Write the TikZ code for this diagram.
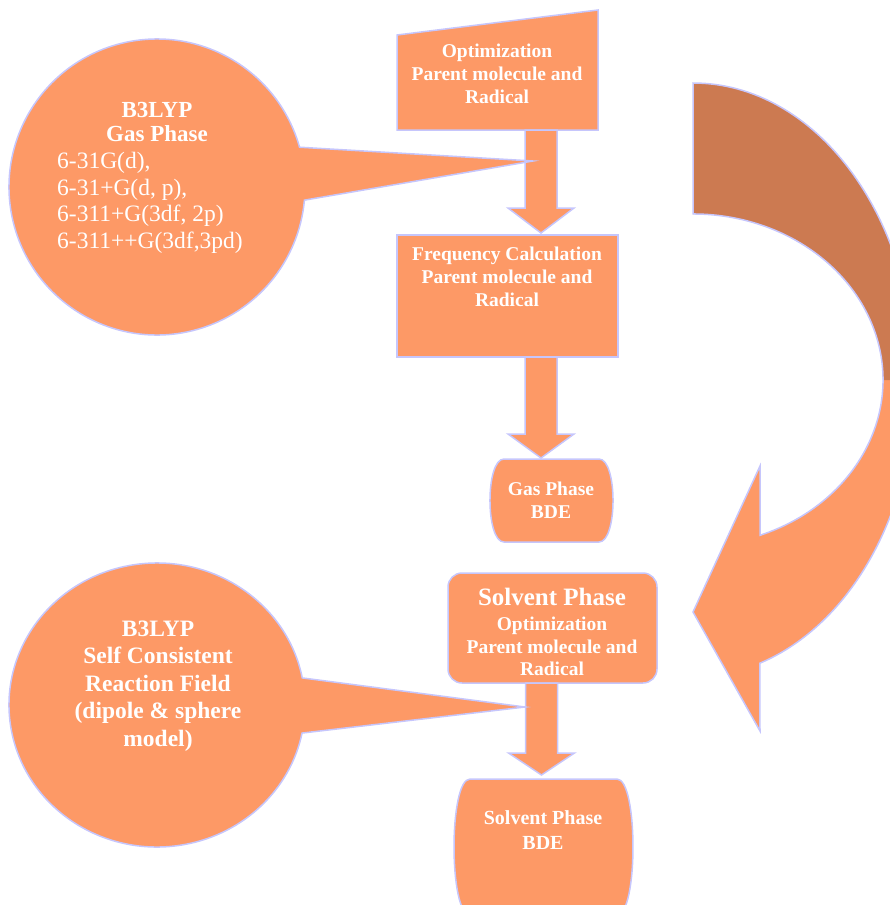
\documentclass[tikz,border=0pt]{standalone}
\usepackage{fontspec}
\setmainfont{Liberation Serif}
\usetikzlibrary{calc}
\definecolor{boxfill}{RGB}{253,153,102}
\definecolor{brownfill}{RGB}{204,122,81}
\definecolor{edgecol}{RGB}{198,198,252}
\newcommand{\blkarr}[3]{% start, end, head length
  \draw[shapestyle] ($(#1)+(-16,0)$) -- ($(#2)+(-16,-#3)$) -- ($(#2)+(-33,-#3)$) -- (#2)
    -- ($(#2)+(33,-#3)$) -- ($(#2)+(16,-#3)$) -- ($(#1)+(16,0)$) -- cycle;}
\begin{document}
\begin{tikzpicture}[x=1pt,y=-1pt,
  shapestyle/.style={fill=boxfill, draw=edgecol, line width=1.5pt},
  lbl/.style={text=white, font=\bfseries\fontsize{19.5}{23}\selectfont, align=center, inner sep=0pt}]
\useasboundingbox (0,0) rectangle (890,905);
\clip (0,0) rectangle (890,905);

% curved arrow on the right
\fill[boxfill] (693,83) arc[start angle=-90,end angle=72.5,x radius=222,y radius=297]
  -- (760,731) -- (693,612) -- (760,466) -- (760,535.3)
  arc[start angle=69.35,end angle=-90,x radius=190,y radius=166] -- cycle;
\fill[brownfill] (693,83) arc[start angle=-90,end angle=0,x radius=222,y radius=297]
  -- (883,380) arc[start angle=0,end angle=-90,x radius=190,y radius=166] -- cycle;
\draw[edgecol, line width=1.5pt] (693,83) arc[start angle=-90,end angle=72.5,x radius=222,y radius=297]
  -- (760,731) -- (693,612) -- (760,466) -- (760,535.3)
  arc[start angle=69.35,end angle=-90,x radius=190,y radius=166] -- cycle;

% top box (manual input shape)
\draw[shapestyle] (397,35) -- (598,10) -- (598,130) -- (397,130) -- cycle;
% frequency box
\node[shapestyle, rectangle, minimum width=221, minimum height=122] (freq) at (507.5,296) {};
% solvent box
\node[shapestyle, rectangle, rounded corners=14, minimum width=209, minimum height=110] (solv) at (552.5,628) {};
% gas BDE barrel
\draw[shapestyle] (504,459) -- (599,459) .. controls (617.7,459) and (617.7,542) .. (599,542)
  -- (504,542) .. controls (485.3,542) and (485.3,459) .. (504,459) -- cycle;
% solvent BDE barrel
\draw[shapestyle] (470,779) -- (617,779) .. controls (638.3,779) and (638.3,915) .. (617,915)
  -- (470,915) .. controls (448.7,915) and (448.7,779) .. (470,779) -- cycle;

% block arrows
\coordinate (a1s) at (541,130); \coordinate (a1e) at (541,233);
\coordinate (a2s) at (541,357); \coordinate (a2e) at (541,458);
\coordinate (a3s) at (541.5,683); \coordinate (a3e) at (541.5,775);
\blkarr{a1s}{a1e}{25}
\blkarr{a2s}{a2e}{24}
\blkarr{a3s}{a3e}{22}

% callouts
\coordinate (c1) at (157,187); \coordinate (tip1) at (533,161);
\draw[shapestyle] ($(c1)+(-15.6:148)$) arc[start angle=-15.6,end angle=-354.9,radius=148] -- (tip1) -- cycle;
\coordinate (c2) at (157,705); \coordinate (tip2) at (525,707);
\draw[shapestyle] ($(c2)+(-11:148 and 142)$) arc[start angle=-11,end angle=-348.6,x radius=148,y radius=142] -- (tip2) -- cycle;

% texts
\node[lbl] (opttext) at (497,74) {Optimization\\Parent molecule and\\Radical};
\node[lbl] (freqtext) at (507,277) {Frequency Calculation\\Parent molecule and\\Radical};
\node[lbl] (gasbde) at (551,500) {Gas Phase\\BDE};
\node[lbl, font=\bfseries\fontsize{19.5}{22.5}\selectfont] (solvtext) at (552,632) {{\fontsize{25}{27}\selectfont Solvent Phase}\\[3pt]Optimization\\Parent molecule and\\Radical};
\node[lbl, font=\bfseries\fontsize{20}{25}\selectfont] (solvbde) at (543,830) {Solvent Phase\\BDE};
\node[lbl, font=\bfseries\fontsize{23}{24}\selectfont] (c1title) at (157,122) {B3LYP\\Gas Phase};
\node[text=white, font=\fontsize{23.5}{26.5}\selectfont, align=left, anchor=west, inner sep=0pt] (c1list) at (57,203)
  {6-31G(d),\\6-31+G(d, p),\\6-311+G(3df, 2p)\\6-311++G(3df,3pd)};
\node[lbl, font=\bfseries\fontsize{23.5}{27.5}\selectfont] (c2text) at (158,686)
  {B3LYP\\Self Consistent\\Reaction Field\\(dipole \& sphere\\model)};
\end{tikzpicture}
\end{document}
